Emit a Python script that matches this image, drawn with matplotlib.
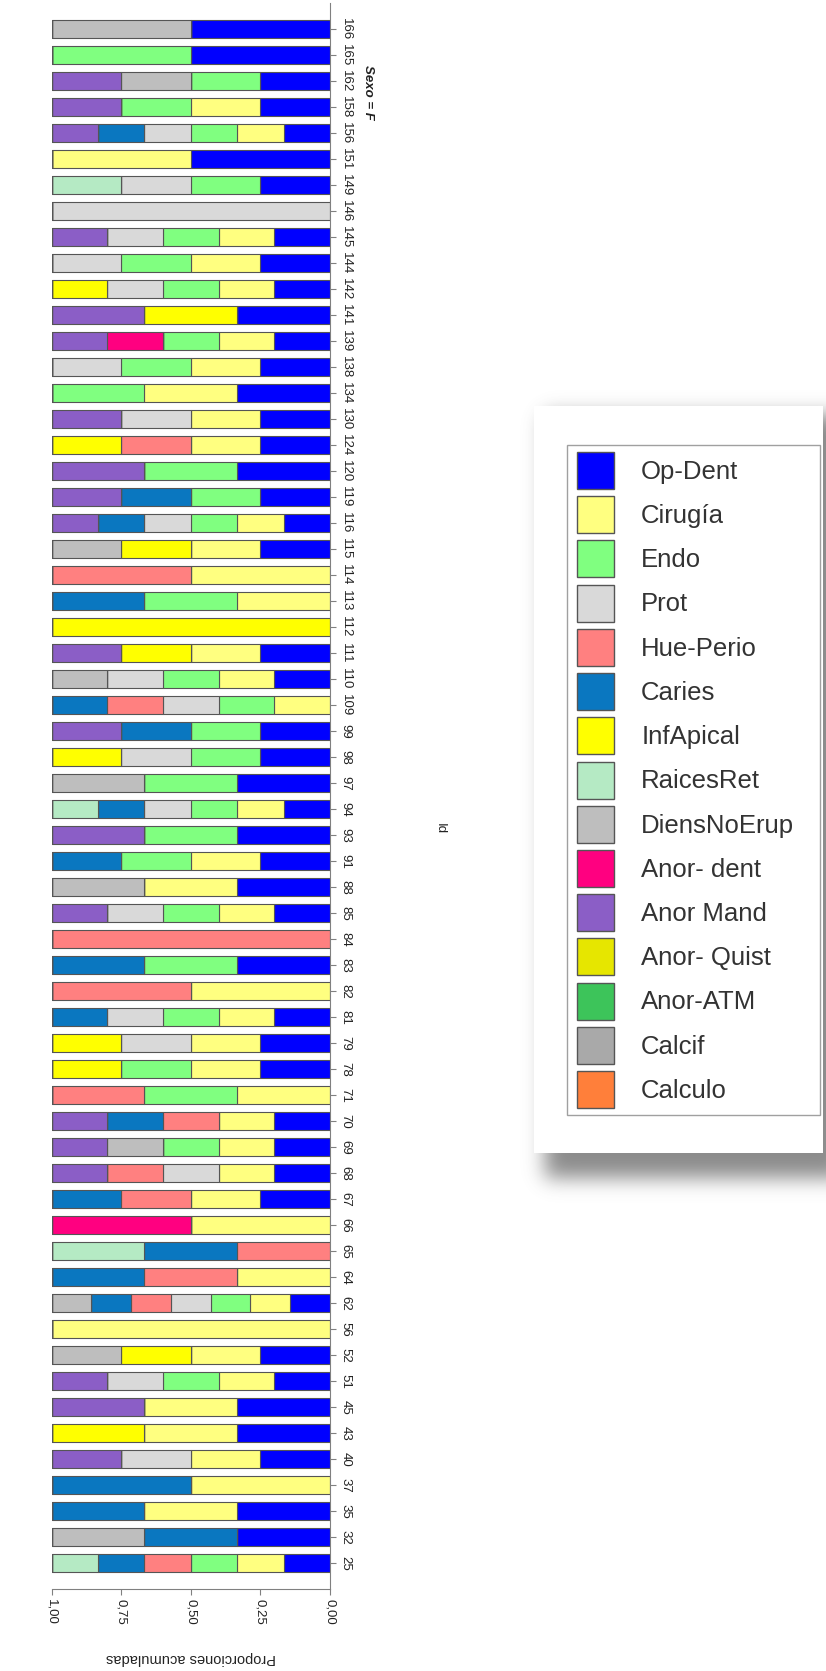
import math
import matplotlib
matplotlib.use("Agg")
import matplotlib.pyplot as plt
from matplotlib.patches import Patch, Rectangle
import numpy as np

plt.rcParams['font.family'] = ['Liberation Sans', 'DejaVu Sans']

ids = [25, 32, 35, 37, 40, 43, 45, 51, 52, 56,
       62, 64, 65, 66, 67, 68, 69, 70, 71, 78,
       79, 81, 82, 83, 84, 85, 88, 91, 93, 94,
       97, 98, 99, 109, 110, 111, 112, 113, 114, 115,
       116, 119, 120, 124, 130, 134, 138, 139, 141, 142,
       144, 145, 146, 149, 151, 156, 158, 162, 165, 166]

categories = ["Op-Dent", "Cirugía", "Endo", "Prot", "Hue-Perio", "Caries",
              "InfApical", "RaicesRet", "DiensNoErup", "Anor- dent",
              "Anor Mand", "Anor- Quist", "Anor-ATM", "Calcif", "Calculo"]

# counts of each treatment per Id (same order as ids)
op_dent = [1, 1, 1, 0, 1, 1, 1, 1, 1, 0,
           1, 0, 0, 0, 1, 1, 1, 1, 0, 1,
           1, 1, 0, 1, 0, 1, 1, 1, 1, 1,
           1, 1, 1, 0, 1, 1, 0, 0, 0, 1,
           1, 1, 1, 1, 1, 1, 1, 1, 1, 1,
           1, 1, 0, 1, 1, 1, 1, 1, 1, 1]
cirugia = [1, 0, 1, 1, 1, 1, 1, 1, 1, 1,
           1, 1, 0, 1, 1, 1, 1, 1, 1, 1,
           1, 1, 1, 0, 0, 1, 1, 1, 0, 1,
           0, 0, 0, 1, 1, 1, 0, 1, 1, 1,
           1, 0, 0, 1, 1, 1, 1, 1, 0, 1,
           1, 1, 0, 0, 1, 1, 1, 0, 0, 0]
endo = [1, 0, 0, 0, 0, 0, 0, 1, 0, 0,
        1, 0, 0, 0, 0, 0, 1, 0, 1, 1,
        0, 1, 0, 1, 0, 1, 0, 1, 1, 1,
        1, 1, 1, 1, 1, 0, 0, 1, 0, 0,
        1, 1, 1, 0, 0, 1, 1, 1, 0, 1,
        1, 1, 0, 1, 0, 1, 1, 1, 1, 0]
prot = [0, 0, 0, 0, 1, 0, 0, 1, 0, 0,
        1, 0, 0, 0, 0, 1, 0, 0, 0, 0,
        1, 1, 0, 0, 0, 1, 0, 0, 0, 1,
        0, 1, 0, 1, 1, 0, 0, 0, 0, 0,
        1, 0, 0, 0, 1, 0, 1, 0, 0, 1,
        1, 1, 1, 1, 0, 1, 0, 0, 0, 0]
hue_perio = [1, 0, 0, 0, 0, 0, 0, 0, 0, 0,
             1, 1, 1, 0, 1, 1, 0, 1, 1, 0,
             0, 0, 1, 0, 1, 0, 0, 0, 0, 0,
             0, 0, 0, 1, 0, 0, 0, 0, 1, 0,
             0, 0, 0, 1, 0, 0, 0, 0, 0, 0,
             0, 0, 0, 0, 0, 0, 0, 0, 0, 0]
caries = [1, 1, 1, 1, 0, 0, 0, 0, 0, 0,
          1, 1, 1, 0, 1, 0, 0, 1, 0, 0,
          0, 1, 0, 1, 0, 0, 0, 1, 0, 1,
          0, 0, 1, 1, 0, 0, 0, 1, 0, 0,
          1, 1, 0, 0, 0, 0, 0, 0, 0, 0,
          0, 0, 0, 0, 0, 1, 0, 0, 0, 0]
inf_apical = [0, 0, 0, 0, 0, 1, 0, 0, 1, 0,
              0, 0, 0, 0, 0, 0, 0, 0, 0, 1,
              1, 0, 0, 0, 0, 0, 0, 0, 0, 0,
              0, 1, 0, 0, 0, 1, 1, 0, 0, 1,
              0, 0, 0, 1, 0, 0, 0, 0, 1, 1,
              0, 0, 0, 0, 0, 0, 0, 0, 0, 0]
raices_ret = [1, 0, 0, 0, 0, 0, 0, 0, 0, 0,
              0, 0, 1, 0, 0, 0, 0, 0, 0, 0,
              0, 0, 0, 0, 0, 0, 0, 0, 0, 1,
              0, 0, 0, 0, 0, 0, 0, 0, 0, 0,
              0, 0, 0, 0, 0, 0, 0, 0, 0, 0,
              0, 0, 0, 1, 0, 0, 0, 0, 0, 0]
diens_no_erup = [0, 1, 0, 0, 0, 0, 0, 0, 1, 0,
                 1, 0, 0, 0, 0, 0, 1, 0, 0, 0,
                 0, 0, 0, 0, 0, 0, 1, 0, 0, 0,
                 1, 0, 0, 0, 1, 0, 0, 0, 0, 1,
                 0, 0, 0, 0, 0, 0, 0, 0, 0, 0,
                 0, 0, 0, 0, 0, 0, 0, 1, 0, 1]
anor_dent = [0, 0, 0, 0, 0, 0, 0, 0, 0, 0,
             0, 0, 0, 1, 0, 0, 0, 0, 0, 0,
             0, 0, 0, 0, 0, 0, 0, 0, 0, 0,
             0, 0, 0, 0, 0, 0, 0, 0, 0, 0,
             0, 0, 0, 0, 0, 0, 0, 1, 0, 0,
             0, 0, 0, 0, 0, 0, 0, 0, 0, 0]
anor_mand = [0, 0, 0, 0, 1, 0, 1, 1, 0, 0,
             0, 0, 0, 0, 0, 1, 1, 1, 0, 0,
             0, 0, 0, 0, 0, 1, 0, 0, 1, 0,
             0, 0, 1, 0, 0, 1, 0, 0, 0, 0,
             1, 1, 1, 0, 1, 0, 0, 1, 1, 0,
             0, 1, 0, 0, 0, 1, 1, 1, 0, 0]
anor_quist = [0] * 60
anor_atm = [0] * 60
calcif = [0] * 60
calculo = [0] * 60

colors = ["#0000FF", "#FFFF80", "#80FF80", "#D9D9D9", "#FF8080", "#0A77C0",
          "#FFFF00", "#B5EAC4", "#BEBEBE", "#FF0080", "#8B5EC6", "#E6E600",
          "#3DC45A", "#A9A9A9", "#FF7F3A"]

counts = np.array([op_dent, cirugia, endo, prot, hue_perio, caries, inf_apical,
                   raices_ret, diens_no_erup, anor_dent, anor_mand, anor_quist,
                   anor_atm, calcif, calculo], dtype=float)
props = counts / counts.sum(axis=0)

fig = plt.figure(figsize=(8.26, 16.71), dpi=100)
W, H = 826, 1671

# soft shadow behind the legend panel
bg = fig.add_axes([0, 0, 1, 1], zorder=-2)
bg.set_axis_off()
xs = np.arange(W) + 0.5
ys = np.arange(H) + 0.5
s = 14.0
fx = np.array([0.5 * (math.erf((x - 545) / s) - math.erf((x - 845) / s)) for x in xs])
fy = np.array([0.5 * (math.erf((y - 415) / s) - math.erf((y - 1178) / s)) for y in ys])
alpha = 0.7 * np.outer(fy, fx)
img = np.zeros((H, W, 4))
img[..., :3] = 0.35
img[..., 3] = alpha
bg.imshow(img, extent=(0, W, H, 0), interpolation="bilinear")
bg.set_xlim(0, W)
bg.set_ylim(H, 0)
bg.add_patch(Rectangle((534, 406), 289, 747, facecolor="white", edgecolor="none"))
# legend frame
bg.add_patch(Rectangle((567, 445), 253, 670, facecolor="none", edgecolor="#a0a0a0",
                       linewidth=1.0))

# main stacked bars
ax = fig.add_axes([51.7 / W, 82 / H, (330 - 51.7) / W, 1586 / H])
pos = np.arange(len(ids))
left = np.zeros(len(ids))
for i, cat in enumerate(categories):
    ax.barh(pos, props[i], left=left, height=0.66, color=colors[i],
            edgecolor="#555555", linewidth=0.8)
    left += props[i]

ax.set_xlim(1, 0)
ax.set_ylim(-1, 60)
ax.yaxis.tick_right()
ax.set_yticks(pos)
ax.set_yticklabels([str(v) for v in ids], rotation=-90, va="center", fontsize=9.5)
ax.set_xticks([1, 0.75, 0.5, 0.25, 0])
ax.set_xticklabels(["1,00", "0,75", "0,50", "0,25", "0,00"], rotation=-90, fontsize=9.5)
ax.tick_params(length=4, color="#808080", labelcolor="#222222", pad=3)
for side in ["top", "left"]:
    ax.spines[side].set_visible(False)
for side in ["right", "bottom"]:
    ax.spines[side].set_color("#808080")

fig.text(191 / W, 1 - 1658 / H, "Proporciones acumuladas", rotation=180,
         ha="center", va="center", fontsize=10.5, color="#222222")
fig.text(440 / W, 1 - 829 / H, "Id", rotation=-90, ha="center", va="center",
         fontsize=9.5, color="#222222")
fig.text(368 / W, 1 - 92 / H, "Sexo = F", rotation=-90, ha="center", va="center",
         fontsize=9.5, fontweight="bold", fontstyle="italic", color="#222222")

handles = [Patch(facecolor=c, edgecolor="#555555", linewidth=1) for c in colors]
leg = fig.legend(handles, categories, loc="upper left",
                 bbox_to_anchor=(577 / W, 1 - 452 / H), fontsize=18.5,
                 frameon=False, borderpad=0,
                 handlelength=1.45, handleheight=1.84, labelspacing=0.28,
                 handletextpad=1.05, borderaxespad=0)
for t in leg.get_texts():
    t.set_color("#333333")

fig.savefig("out.png", dpi=100)
